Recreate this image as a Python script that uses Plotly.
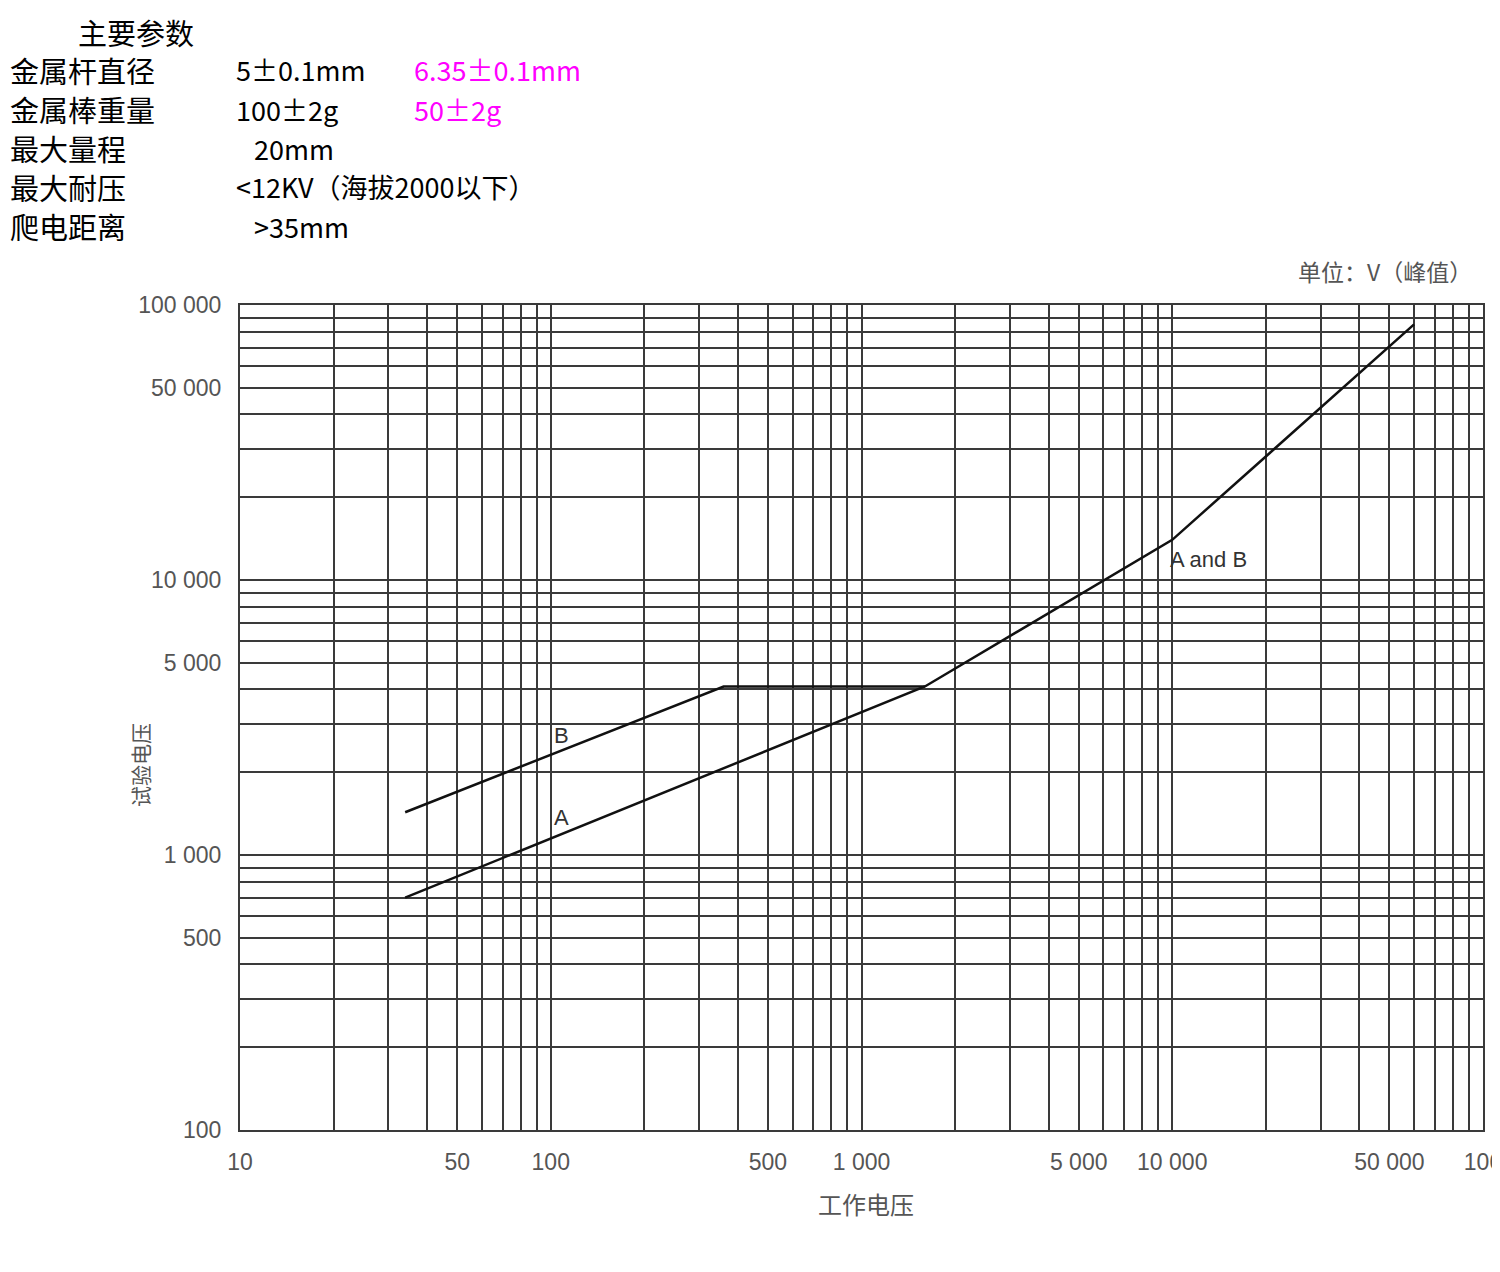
import plotly.graph_objects as go

# ---- data ----
curve_a_x = [34, 1600, 10000, 60000]
curve_a_y = [700, 4100, 14000, 85000]
curve_b_x = [34, 360, 1600]
curve_b_y = [1430, 4100, 4100]

x_label_vals = [10, 50, 100, 500, 1000, 5000, 10000, 50000, 100000]
x_label_text = ["10", "50", "100", "500", "1 000", "5 000", "10 000", "50 000", "100"]
y_label_vals = [100, 500, 1000, 5000, 10000, 50000, 100000]
y_label_text = ["100", "500", "1 000", "5 000", "10 000", "50 000", "100 000"]

param_names = ["金属杆直径", "金属棒重量", "最大量程", "最大耐压", "爬电距离"]
param_values = ["5±0.1mm", "100±2g", "20mm", "<12KV（海拔2000以下）", ">35mm"]
param_alt = ["6.35±0.1mm", "50±2g", "", "", ""]

# ---- layout geometry (page pixels; page has 8px body margin) ----
OFF = 8
W, H = 1500, 1272
L, T = 240 - OFF, 305 - OFF
PW, PH = 1483 - 240, 1130 - 305
R, B = W - L - PW, H - T - PH


def px2paper(px, py):
    fx, fy = px - OFF, py - OFF
    return (fx - L) / PW, (T + PH - fy) / PH


def grid_vals(lo_exp, hi_exp):
    vals = []
    for e in range(lo_exp, hi_exp):
        for m in range(1, 10):
            vals.append(m * 10 ** e)
    vals.append(10 ** hi_exp)
    return vals


xgrid = grid_vals(1, 5)
ygrid = grid_vals(2, 5)
xtext = [x_label_text[x_label_vals.index(v)] if v in x_label_vals else "" for v in xgrid]
ytext = [y_label_text[y_label_vals.index(v)] if v in y_label_vals else "" for v in ygrid]

fig = go.Figure()
line_style = dict(color="#111111", width=2.5)
fig.add_trace(go.Scatter(x=curve_a_x, y=curve_a_y, mode="lines", line=line_style, showlegend=False))
fig.add_trace(go.Scatter(x=curve_b_x, y=curve_b_y, mode="lines", line=line_style, showlegend=False))

grid_color = "#3a3a3a"
tick_font = dict(family="Liberation Sans, Arial", size=23, color="#555555")
fig.update_xaxes(type="log", range=[1, 5], tickmode="array", tickvals=xgrid, ticktext=xtext,
                 showgrid=True, gridcolor=grid_color, gridwidth=2, showline=True,
                 linecolor=grid_color, linewidth=2, mirror=True, ticks="",
                 tickfont=tick_font, ticklabelstandoff=10, zeroline=False,
                 automargin=False)
fig.update_yaxes(type="log", range=[2, 5], tickmode="array", tickvals=ygrid, ticktext=ytext,
                 showgrid=True, gridcolor=grid_color, gridwidth=2, showline=True,
                 linecolor=grid_color, linewidth=2, mirror=True, ticks="",
                 tickfont=tick_font, ticklabelstandoff=12, zeroline=False,
                 automargin=False)

ann = []
cjk = "Noto Sans CJK SC"


def add_text(px, py, text, size, color="#000000", xanchor="left", yanchor="middle",
             angle=0, family=cjk):
    x, y = px2paper(px, py)
    ann.append(dict(x=x, y=y, xref="paper", yref="paper", text=text, showarrow=False,
                    xanchor=xanchor, yanchor=yanchor, textangle=angle, borderpad=0,
                    align="left", font=dict(family=family, size=size, color=color)))


# header block
add_text(77, 32, "主要参数", 29)
rows_y = [70, 109, 148, 187, 226]
value_x = [235, 235, 253, 235, 253]
for i, y in enumerate(rows_y):
    add_text(9, y, param_names[i], 29)
    add_text(value_x[i], y, param_values[i], 27)
    if param_alt[i]:
        add_text(413, y, param_alt[i], 27, color="#ff00ff")

# chart texts
add_text(1473, 271, "单位：V（峰值）", 23, color="#555555", xanchor="right")
add_text(866, 1203, "工作电压", 24, color="#555555", xanchor="center")
add_text(140, 765, "试验电压", 21, color="#555555", xanchor="center", angle=-90)

# curve labels (data coords, log10 units)
lbl_font = dict(family="Liberation Sans, Arial", size=22, color="#333333")
ann.append(dict(x=2.036, y=3.436, xref="x", yref="y", text="B", showarrow=False, font=lbl_font))
ann.append(dict(x=2.036, y=3.135, xref="x", yref="y", text="A", showarrow=False, font=lbl_font))
ann.append(dict(x=3.986, y=4.073, xref="x", yref="y", text="A and B", showarrow=False,
                xanchor="left", font=lbl_font))

fig.update_layout(width=W, height=H, margin=dict(l=L, r=R, t=T, b=B, pad=0, autoexpand=False),
                  plot_bgcolor="white", paper_bgcolor="white", annotations=ann)

fig.write_html("out.html")
